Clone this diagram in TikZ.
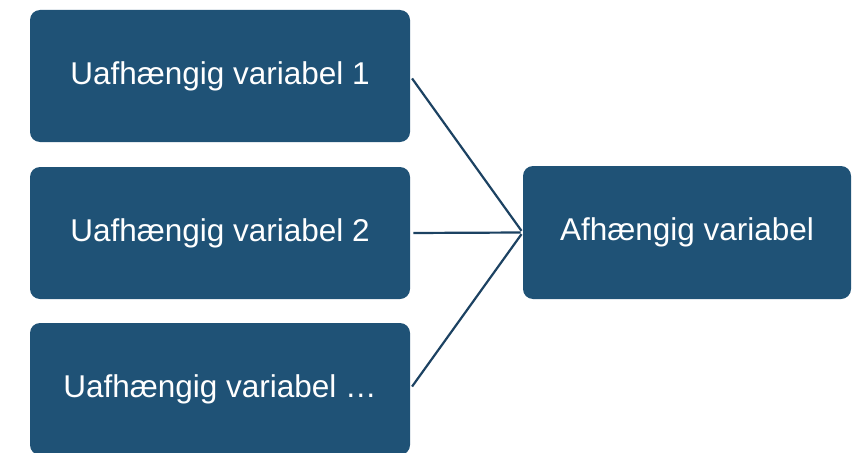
\documentclass[tikz,border=0pt]{standalone}
\usepackage{fontspec}
\setmainfont{Liberation Sans}
\usepackage{xcolor}
\usetikzlibrary{shapes,calc,positioning}
\definecolor{boxblue}{HTML}{1F5276}
\definecolor{lineblue}{HTML}{1C4262}

\begin{document}
\begin{tikzpicture}[x=1pt,y=-1pt,semithick]
	\tikzstyle{block} = [rectangle,rounded corners=10pt,fill=boxblue,text=white,minimum width=380pt,minimum height=132pt,inner sep=0pt,font=\fontsize{31.5}{38}\selectfont]
	\tikzstyle{block2} = [block,minimum width=328pt,minimum height=133pt]
	\tikzstyle{link} = [draw=lineblue,line width=2.2pt,shorten <=3pt,shorten >=2pt]
	\useasboundingbox (0,0) rectangle (861,452);

	\node[block] (U1) at (220,76) {Uafhængig variabel 1};
	\node[block] (U2) at (220,233) {Uafhængig variabel 2};
	\node[block] (U3) at (220,389) {Uafhængig variabel …};
	\node[block2] (A) at (687,232.5) {Afhængig variabel};

	\draw[link] (U1.east) -- (A.west);
	\draw[link] (U2.east) -- (A.west);
	\draw[link] (U3.east) -- (A.west);
\end{tikzpicture}
\end{document}
